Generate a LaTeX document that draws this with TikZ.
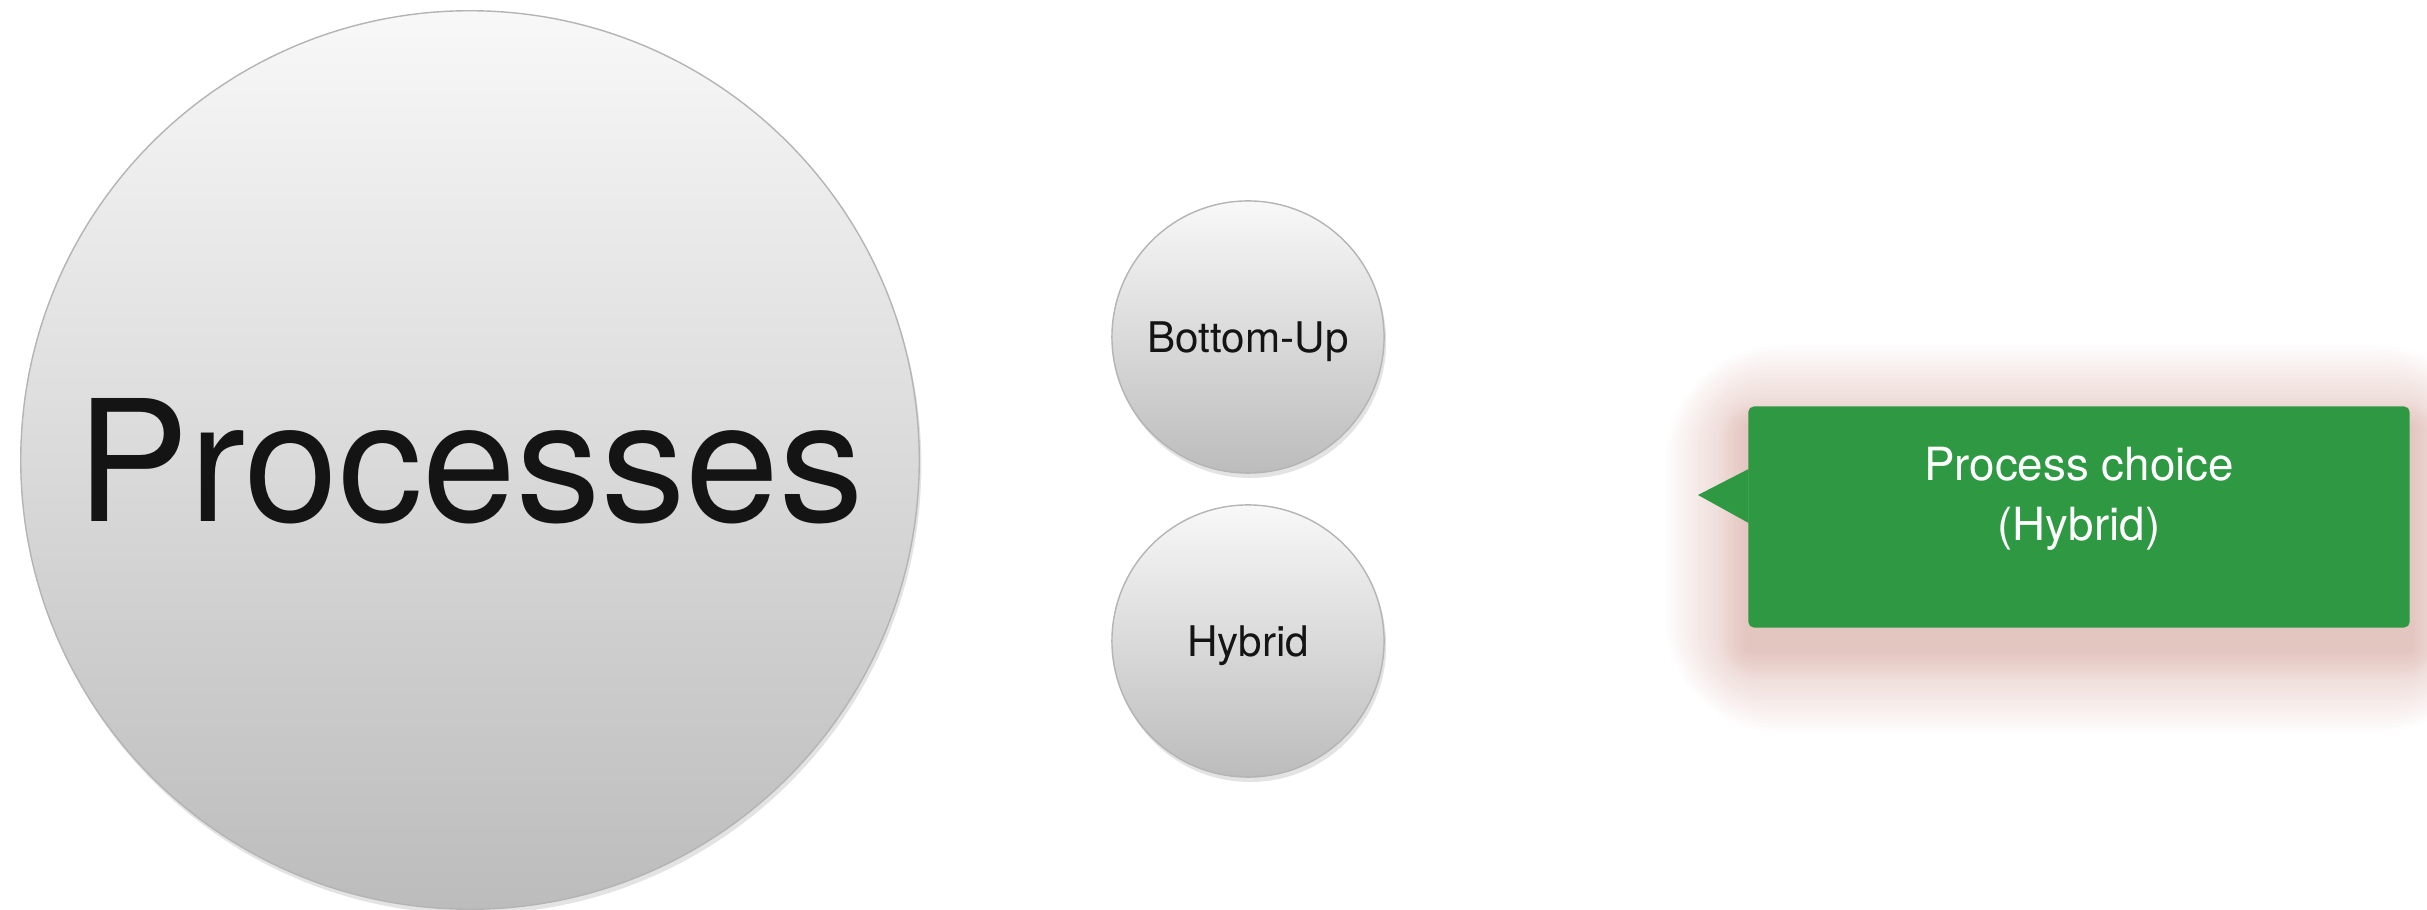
\documentclass[tikz,border=0pt]{standalone}
\usepackage{fontspec}
\setmainfont{TeX Gyre Heros}
\usetikzlibrary{
  positioning,
  calc,
  shadows,
  backgrounds
}
\definecolor{ballTop}{HTML}{F8F8F8}
\definecolor{ballBottom}{HTML}{BCBCBC}
\definecolor{ballEdge}{HTML}{B4B4B4}
\definecolor{choiceGreen}{HTML}{2F9842}
\definecolor{glowRed}{HTML}{C8897E}

\begin{document}
\begin{tikzpicture}[
  x=0.01cm, y=-0.01cm,
  ball/.style={circle, draw=ballEdge, line width=0.4pt, inner sep=0pt,
               top color=ballTop, bottom color=ballBottom, text=black!92,
               text depth=0pt,
               drop shadow={shadow xshift=0.6pt, shadow yshift=-1.4pt, opacity=0.22}},
  bubble/.style={fill=choiceGreen, rounded corners=1.6pt,
                 minimum width=6.61cm, minimum height=2.21cm},
  bubbletext/.style={text=white, align=center,
                     font=\fontsize{13}{17}\selectfont}
]
  \useasboundingbox (0,0) rectangle (2427,910);

  \node[ball, minimum size=8.98cm, font=\fontsize{48}{58}\selectfont]
    (processes) at (470,460) {Processes};

  \node[ball, minimum size=2.72cm, font=\fontsize{12}{14}\selectfont]
    (bottomup) at (1248,337) {Bottom-Up};
  \node[ball, minimum size=2.72cm, font=\fontsize{12}{14}\selectfont]
    (hybrid) at (1248,641) {Hybrid};

  \node[bubble] (choice) at (2079,517) {};
  \coordinate (tip) at (1698,495);
  \fill[choiceGreen] (tip) -- ($(choice.west)+(1,-48)$)
    -- ($(choice.west)+(1,6)$) -- cycle;
  \node[bubbletext] (choicetext) at ($(choice.center)+(0,-18)$)
    {Process choice\\(Hybrid)};

  % soft glow round the bubble
  \begin{scope}[on background layer]
    \foreach \r in {2,4,...,30,34,38,...,82}
      \fill[glowRed, opacity=0.024, rounded corners=\r*0.4pt]
        ($(choice.north west)+(-\r,22-\r)$)
        rectangle ($(choice.south east)+(\r,22+\r)$);
  \end{scope}
\end{tikzpicture}
\end{document}
